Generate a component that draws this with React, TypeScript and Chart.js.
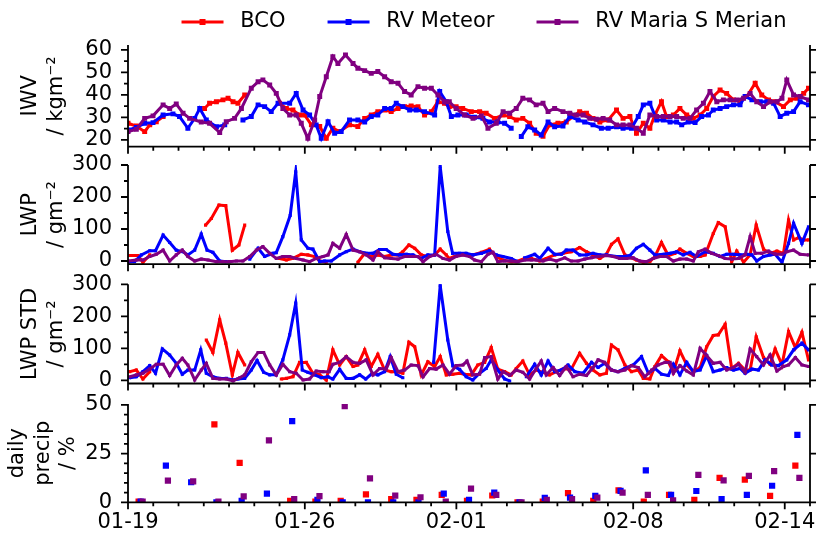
import React, { useEffect, useRef } from 'react';
import { Chart, registerables } from 'chart.js';

Chart.register(...registerables);

const FONT = '"DejaVu Sans", "Liberation Sans", sans-serif';
Chart.defaults.font.family = FONT;
Chart.defaults.font.size = 21;
Chart.defaults.color = '#000';

// ---------- shared axis values (x = days since 01-19 00:00) ----------
const seriesNames = ['BCO', 'RV Meteor', 'RV Maria S Merian'];
const seriesColors = ['#ff0000', '#0000ff', '#800080'];
const X_MIN = 0;
const X_MAX = 27;
const xTickValues = [0, 7, 13, 20, 26];
const xTickLabels = ['01-19', '01-26', '02-01', '02-08', '02-14'];
const xMinorTicks = [0, 1, 2, 3, 4, 5, 6, 7, 8, 9, 10, 11, 12, 13, 14, 15, 16, 17, 18, 19, 20, 21, 22, 23, 24, 25, 26, 27];

const iwvMajor = [20, 30, 40, 50, 60];
const iwvMinor = [20, 25, 30, 35, 40, 45, 50, 55, 60];
const lwpMajor = [0, 100, 200, 300];
const lwpMinor = [0, 50, 100, 150, 200, 250, 300];
const precipMajor = [0, 25, 50];
const precipMinor = [0, 5, 10, 15, 20, 25, 30, 35, 40, 45, 50];

// ---------- IWV / kg m-2 ----------
const bcoIwv = [[0,27.4],[0.33,26.2],[0.66,23.7],[0.86,26.7],[1.12,28.1],[1.39,30.4],[2.2,null],[3.03,34],[3.23,36.3],[3.5,37],[3.76,37.8],[3.96,38.5],[4.16,37],[4.35,36.3],[4.62,40],[5.3,null],[6.0,36.3],[6.27,34],[6.53,33.3],[6.79,31.1],[6.99,31.1],[7.26,26.7],[7.59,26],[7.85,20.7],[8.11,25.2],[8.38,23.7],[8.77,26.7],[9.1,26],[9.37,29.6],[9.63,31.1],[9.89,32.6],[10.16,33.3],[10.42,32.6],[10.69,34],[10.95,34.8],[11.21,35.1],[11.48,34.8],[11.74,31.1],[12.01,32.6],[12.27,37],[12.53,36.3],[12.72,34.8],[12.99,34.8],[13.25,34],[13.59,32.6],[13.92,32.6],[14.18,31.9],[14.51,29.6],[14.85,31.1],[15.11,30.4],[15.37,28.9],[15.63,29.6],[15.9,27.4],[16.16,23],[16.43,21.6],[16.69,26.7],[17.02,27.4],[17.35,28],[17.62,30.4],[17.88,32.6],[18.15,31.9],[18.41,29.6],[18.68,28],[19.01,28.9],[19.34,33.3],[19.6,29.6],[19.87,30.4],[20.13,23],[20.4,27.4],[20.66,25.2],[20.86,31.1],[21.12,37],[21.32,30.4],[21.59,31.1],[21.85,34],[22.12,31.1],[22.38,29.6],[22.65,31.1],[22.91,34],[23.17,39.3],[23.44,42.2],[23.7,40.7],[23.97,37.8],[24.23,37],[24.5,39.3],[24.83,45.2],[25.09,40],[25.36,37.8],[25.62,37],[25.95,34.8],[26.22,37.8],[26.48,38.5],[26.75,40.7],[26.94,43]];
const meteorIwv = [[0,24.4],[0.33,25.6],[0.66,27.4],[0.99,27.7],[1.39,31.1],[1.78,31.6],[2.04,30.4],[2.37,25.2],[2.64,29.6],[2.84,34],[3.1,28.9],[3.5,25.9],[3.83,26.7],[4.2,null],[4.55,28.9],[4.88,30.4],[5.15,35.6],[5.41,34.8],[5.67,32.6],[5.94,36.3],[6.4,36.3],[6.66,40.7],[6.93,33.3],[7.19,31.1],[7.45,26.7],[7.65,20.7],[7.92,28.1],[8.18,23],[8.44,23.7],[8.77,28.9],[9.1,28.9],[9.37,28],[9.63,30.4],[9.89,31.1],[10.16,34],[10.42,34],[10.62,36.3],[10.88,34.8],[11.15,33.3],[11.41,33.3],[11.74,32.6],[12.14,31.1],[12.34,41.5],[12.6,37],[12.8,30.4],[13.06,31.1],[13.39,31.1],[13.72,30.1],[14.05,29.6],[14.31,28],[14.64,28],[14.91,27.4],[15.17,25.2],[15.37,null],[15.57,21.5],[15.83,25.9],[16.1,24.4],[16.36,22.2],[16.63,28],[16.89,25.9],[17.22,26.2],[17.49,30.4],[17.82,28.9],[18.08,28],[18.41,26.7],[18.74,25.2],[19.01,25.2],[19.34,25.9],[19.6,25.2],[19.93,25.2],[20.2,30.4],[20.4,35.6],[20.66,36.3],[20.93,28.9],[21.19,28.9],[21.46,28],[21.72,28],[21.92,26.7],[22.18,28],[22.45,27.7],[22.71,30.4],[22.98,31.1],[23.17,33.3],[23.44,34],[23.7,34.8],[23.97,35.6],[24.23,35.6],[24.43,39.3],[24.7,37.8],[25.03,37],[25.29,37],[25.56,36.3],[25.82,30.4],[26.08,31.9],[26.35,32.6],[26.61,37],[26.94,35.6]];
const merianIwv = [[0,23.7],[0.33,24.7],[0.66,29.6],[0.99,30.7],[1.39,35.6],[1.65,34],[1.91,36],[2.18,31.9],[2.44,29.6],[2.9,28],[3.23,27.4],[3.63,23.3],[3.89,28.1],[4.22,29.6],[4.49,34],[4.88,43],[5.15,45.9],[5.34,46.7],[5.61,44.4],[5.87,40.7],[6.13,34],[6.4,31.1],[6.66,31.1],[6.86,27.4],[7.12,20.7],[7.39,28.9],[7.59,39.3],[7.85,48.1],[8.11,57],[8.31,54],[8.61,57.8],[8.91,54],[9.1,51.9],[9.37,50.8],[9.63,49.6],[9.89,50.4],[10.16,48.1],[10.42,45.9],[10.69,45.2],[10.95,41.5],[11.21,40],[11.48,43.7],[11.74,43],[12.01,43],[12.27,40],[12.53,37],[12.72,37],[12.99,34],[13.32,31.1],[13.66,29.6],[13.99,30.7],[14.25,25.2],[14.58,27.4],[14.85,32.6],[15.11,31.9],[15.37,34],[15.63,38.5],[15.9,37.8],[16.16,35.6],[16.43,36.3],[16.63,32.6],[16.89,34],[17.22,32.6],[17.49,31.9],[17.75,31.1],[18.02,31.1],[18.28,29.6],[18.54,29.2],[18.81,29.6],[19.07,28.9],[19.34,26.7],[19.6,26.7],[19.87,26.7],[20.13,25.2],[20.4,23],[20.66,31.1],[20.93,30.4],[21.19,30.4],[21.46,30.4],[21.72,30.4],[21.98,29.6],[22.25,29.6],[22.51,33.3],[22.78,36.3],[23.04,41.5],[23.31,37],[23.57,37.8],[23.84,37.8],[24.1,37.8],[24.37,38.5],[24.63,40.7],[24.89,37],[25.16,34.8],[25.42,37],[25.69,37],[25.89,38.5],[26.08,46.7],[26.35,40],[26.61,39.3],[26.94,37.8]];

// ---------- LWP / g m-2 ----------
const bcoLwp = [[0.07,17],[0.4,17],[0.59,-4],[0.86,19],[2,null],[3.07,112],[3.3,133],[3.6,175],[3.87,173],[4.13,34],[4.39,50],[4.62,112],[5.3,null],[6.0,8],[6.27,3],[6.53,8],[6.86,21],[7.12,19],[7.39,14],[7.59,0],[7.85,-4],[8.5,null],[9.1,-4],[9.37,24],[9.63,14],[9.89,19],[10.16,14],[10.42,19],[10.69,19],[10.88,29],[11.12,50],[11.35,40],[11.61,19],[11.87,14],[12.14,19],[12.36,37],[12.6,19],[12.72,8],[13.06,19],[13.32,21],[13.65,19],[13.99,27],[14.31,37],[14.58,14],[14.84,3],[15.17,-2],[15.37,-2],[15.7,8],[15.97,8],[16.3,0],[16.56,8],[16.89,19],[17.22,24],[17.55,29],[17.88,42],[18.15,29],[18.41,19],[18.68,8],[18.94,21],[19.14,52],[19.4,69],[19.67,19],[19.93,10],[20.13,3],[20.4,-4],[20.66,-2],[20.86,14],[21.12,58],[21.39,17],[21.65,24],[21.85,37],[22.12,24],[22.38,14],[22.65,14],[22.85,19],[23.17,86],[23.37,120],[23.64,107],[23.9,-2],[24.1,31],[24.37,-4],[24.63,19],[24.87,112],[25.16,37],[25.42,24],[25.69,31],[25.95,24],[26.15,128],[26.35,66],[26.55,73],[26.75,66],[26.94,66]];
const meteorLwp = [[0,-3],[0.26,-2],[0.53,19],[0.86,32],[1.09,32],[1.39,81],[1.65,58],[1.91,34],[2.18,29],[2.37,19],[2.64,34],[2.9,84],[3.13,34],[3.36,27],[3.63,0],[3.89,-2],[4.3,null],[4.82,6],[5.15,40],[5.41,14],[5.74,24],[5.87,26],[6.13,76],[6.42,142],[6.64,279],[6.86,66],[7.12,40],[7.32,37],[7.59,-2],[7.78,0],[8.05,0],[8.38,19],[8.64,29],[8.91,37],[9.17,29],[9.43,24],[9.7,24],[9.96,36],[10.22,36],[10.49,21],[10.75,19],[11.02,21],[11.28,19],[11.61,8],[11.87,19],[12.14,19],[12.36,295],[12.66,92],[12.85,24],[13.12,24],[13.39,24],[13.65,19],[13.99,24],[14.31,32],[14.58,19],[14.84,14],[15.17,8],[15.37,0],[15.5,null],[15.7,10],[16.1,21],[16.3,8],[16.63,40],[16.89,21],[17.16,21],[17.35,34],[17.62,34],[17.88,19],[18.15,19],[18.41,24],[18.68,19],[18.94,19],[19.34,14],[19.6,14],[19.87,17],[20.13,40],[20.4,52],[20.66,34],[20.86,19],[21.19,21],[21.46,24],[21.72,29],[21.98,19],[22.25,27],[22.51,14],[22.85,29],[23.17,24],[23.44,14],[23.7,21],[23.97,21],[24.23,19],[24.5,21],[24.7,19],[24.89,0],[25.16,14],[25.42,19],[25.62,21],[25.89,-4],[26.15,55],[26.35,118],[26.68,55],[26.94,107]];
const merianLwp = [[0,0],[0.33,3],[0.59,3],[0.86,14],[1.12,21],[1.39,34],[1.65,0],[1.91,19],[2.15,34],[2.37,14],[2.64,0],[2.9,6],[3.17,3],[3.5,-2],[3.76,-2],[4.02,-2],[4.29,0],[4.55,0],[4.82,14],[5.08,34],[5.34,45],[5.61,24],[5.87,8],[6.13,14],[6.4,14],[6.66,8],[6.93,3],[7.19,-2],[7.45,8],[7.72,14],[7.92,19],[8.11,55],[8.38,40],[8.64,83],[8.91,34],[9.17,29],[9.43,19],[9.7,3],[9.89,29],[10.16,10],[10.42,8],[10.69,6],[10.95,14],[11.21,14],[11.48,14],[11.68,-2],[11.94,14],[12.2,21],[12.47,8],[12.73,3],[12.99,14],[13.25,19],[13.52,14],[13.72,3],[13.99,-2],[14.25,21],[14.45,27],[14.64,-2],[14.91,0],[15.17,0],[15.44,-2],[15.7,3],[15.97,3],[16.16,3],[16.43,0],[16.69,6],[16.96,0],[17.29,10],[17.55,0],[17.82,0],[18.08,6],[18.35,10],[18.61,14],[18.94,17],[19.21,14],[19.47,8],[19.74,8],[20,10],[20.26,0],[20.53,-2],[20.79,8],[21.06,14],[21.32,14],[21.59,0],[21.85,6],[22.12,6],[22.38,0],[22.58,29],[22.85,37],[23.11,24],[23.37,17],[23.64,8],[23.9,6],[24.17,8],[24.43,19],[24.63,76],[24.83,24],[25.09,24],[25.36,31],[25.62,21],[25.89,21],[26.08,29],[26.35,34],[26.61,21],[26.94,19]];

// ---------- LWP STD / g m-2 ----------
const bcoStd = [[0.07,27],[0.33,32],[0.59,4],[0.86,27],[2,null],[3.1,126],[3.36,87],[3.63,189],[3.87,116],[4.13,17],[4.35,87],[4.62,48],[5.3,null],[6.07,4],[6.27,6],[6.53,11],[6.79,56],[7.06,56],[7.32,22],[7.59,17],[7.85,1],[8.11,95],[8.38,48],[8.64,74],[8.91,43],[9.1,48],[9.37,95],[9.63,43],[9.89,81],[10.16,32],[10.42,27],[10.62,27],[10.88,22],[11.12,119],[11.35,105],[11.61,17],[11.87,58],[12.14,43],[12.36,74],[12.6,17],[12.86,19],[13.13,22],[13.32,19],[13.59,17],[13.85,48],[14.12,56],[14.38,102],[14.64,35],[14.91,27],[15.17,17],[15.37,37],[15.63,60],[15.9,17],[16.16,32],[16.43,25],[16.69,17],[16.96,27],[17.22,35],[17.55,35],[17.88,84],[18.15,53],[18.41,32],[18.68,17],[18.94,22],[19.14,110],[19.4,95],[19.67,48],[19.93,27],[20.2,32],[20.4,6],[20.66,4],[20.86,43],[21.12,77],[21.39,58],[21.59,25],[21.85,92],[22.12,48],[22.38,27],[22.65,40],[22.91,105],[23.17,140],[23.37,142],[23.64,175],[23.9,37],[24.17,53],[24.43,32],[24.63,32],[24.87,136],[25.16,71],[25.42,50],[25.62,98],[25.89,48],[26.15,152],[26.42,102],[26.68,150],[26.94,64]];
const meteorStd = [[0.07,8],[0.33,11],[0.59,27],[0.86,46],[1.09,22],[1.36,98],[1.65,79],[1.91,53],[2.15,19],[2.37,32],[2.64,32],[2.88,95],[3.1,22],[3.36,11],[3.63,6],[3.89,6],[4.16,1],[4.35,4],[4.62,6],[4.88,32],[5.11,62],[5.37,25],[5.61,17],[5.87,17],[6.13,64],[6.4,142],[6.64,241],[6.9,32],[7.12,25],[7.39,17],[7.65,8],[7.92,11],[8.11,4],[8.38,34],[8.64,6],[8.91,6],[9.17,17],[9.41,4],[9.67,22],[9.89,17],[10.16,27],[10.38,74],[10.62,19],[10.88,8],[11.5,null],[12.1,56],[12.36,296],[12.66,126],[12.86,45],[13.13,34],[13.39,11],[13.65,1],[13.92,22],[14.18,37],[14.38,64],[14.64,32],[14.91,4],[15.11,-2],[15.4,null],[15.77,11],[16.1,50],[16.36,17],[16.63,60],[16.89,27],[17.16,32],[17.42,48],[17.69,27],[18.02,22],[18.35,56],[18.61,40],[18.87,53],[19.14,32],[19.4,27],[19.67,37],[20,48],[20.33,74],[20.6,22],[20.86,37],[21.12,19],[21.39,15],[21.59,50],[21.85,17],[22.12,56],[22.38,27],[22.65,32],[22.91,77],[23.17,27],[23.44,32],[23.7,40],[23.97,32],[24.23,37],[24.43,22],[24.7,35],[24.96,32],[25.22,64],[25.49,48],[25.75,46],[26.08,64],[26.35,95],[26.68,116],[26.94,95]];
const merianStd = [[0.07,11],[0.33,17],[0.59,22],[0.86,35],[1.12,50],[1.39,50],[1.65,15],[1.91,48],[2.15,69],[2.37,48],[2.64,1],[2.9,32],[3.1,53],[3.36,6],[3.63,4],[3.89,4],[4.16,-2],[4.42,8],[4.62,17],[4.88,58],[5.15,87],[5.37,87],[5.61,48],[5.87,17],[6.13,50],[6.4,27],[6.66,22],[6.93,1],[7.19,4],[7.45,29],[7.72,27],[7.96,27],[8.11,50],[8.38,56],[8.64,74],[8.91,56],[9.17,53],[9.43,64],[9.7,17],[9.96,37],[10.22,35],[10.42,71],[10.69,27],[10.95,32],[11.21,48],[11.48,46],[11.68,11],[11.94,37],[12.2,35],[12.47,48],[12.73,19],[12.99,46],[13.26,48],[13.42,60],[13.65,17],[13.92,19],[14.12,71],[14.38,74],[14.64,4],[14.85,27],[15.11,15],[15.37,32],[15.63,25],[15.9,4],[16.16,37],[16.36,60],[16.56,17],[16.83,40],[17.09,15],[17.35,43],[17.62,11],[17.88,19],[18.15,15],[18.41,40],[18.61,64],[18.87,56],[19.14,32],[19.4,27],[19.67,32],[19.93,46],[20.2,40],[20.46,11],[20.73,32],[20.99,48],[21.26,56],[21.46,56],[21.59,22],[21.85,46],[22.12,29],[22.38,17],[22.65,100],[22.91,77],[23.17,53],[23.44,56],[23.7,32],[23.97,40],[24.17,50],[24.43,25],[24.63,98],[24.89,74],[25.16,48],[25.42,79],[25.69,29],[25.95,43],[26.15,48],[26.42,71],[26.68,48],[26.94,43]];

// ---------- daily precip / % (one value per day, 01-19 ... 02-14) ----------
const precipDays = [0, 1, 2, 3, 4, 5, 6, 7, 8, 9, 10, 11, 12, 13, 14, 15, 16, 17, 18, 19, 20, 21, 22, 23, 24, 25, 26];
const bcoPrecip = [0.3, null, null, 40, 20.3, null, 0.7, 0.3, 0.7, 4.1, 1.7, 1.2, 3.8, 0.7, 3.5, 0, 0.3, 4.7, 0.7, 6.1, 0.3, 3.8, 1.2, 12.5, 11.7, 3.3, 18.8];
const meteorPrecip = [0.3, 18.8, 10.3, 0, 0.7, 4.4, 41.7, 1.2, 0, 0, 0, 0, 4.4, 1.2, 5, 0, 2.3, 2.4, 3.3, 5.9, 16.4, 3.8, 5.8, 1.7, 3.8, 8.5, 34.6];
const merianPrecip = [0.3, 11.1, 10.8, 0.3, 3.1, 31.8, 1.7, 3.2, 49.4, 12.3, 3.4, 2.6, 0.3, 7, 3.8, 0, 1.2, 1.6, 2.4, 5, 3.8, 1, 14.1, 11.3, 13.6, 16, 12.5];
const precipHourOffset = [0.42, 0.5, 0.58]; // time of day of each station's daily point

// ---------- helpers ----------
const toXY = (pts: any[]) => pts.map(([x, y]) => ({ x, y }));

function lineDataset(i: number, pts: any[], radius: number) {
  const c = seriesColors[i];
  return {
    label: seriesNames[i],
    data: toXY(pts),
    borderColor: c,
    backgroundColor: c,
    borderWidth: 3,
    pointStyle: 'rect',
    pointRadius: radius,
    pointBorderWidth: 0,
    pointBackgroundColor: c,
    tension: 0,
    spanGaps: false,
    clip: 0,
    order: 3 - i,
  };
}

function precipDataset(i: number, vals: (number | null)[]) {
  const c = seriesColors[i];
  return {
    label: seriesNames[i],
    data: precipDays.map((d, k) => ({ x: d + precipHourOffset[i], y: vals[k] })),
    backgroundColor: c,
    borderColor: c,
    pointStyle: 'rect',
    pointRadius: 4.4,
    pointBorderWidth: 0,
    showLine: false,
    clip: 0,
    order: 3 - i,
  };
}

function yAxis(min: number, max: number, major: number[], title: string[], titlePad: number) {
  return {
    type: 'linear',
    min,
    max,
    afterBuildTicks: (s: any) => { s.ticks = major.map((v) => ({ value: v })); },
    afterFit: (s: any) => { s.width = 128; s.paddingTop = 0; s.paddingBottom = 0; },
    grid: { display: false, drawTicks: false },
    border: { display: false },
    ticks: { autoSkip: false, padding: 16, color: '#000', font: { size: 21, family: FONT }, callback: (v: any) => String(v) },
    title: { display: true, text: title, color: '#000', font: { size: 21, family: FONT }, padding: { top: titlePad, bottom: 0 } },
  };
}

function xAxis(show: boolean) {
  const base: any = { type: 'linear', min: X_MIN, max: X_MAX, grid: { display: false, drawTicks: false }, border: { display: false } };
  if (!show) return { ...base, display: false };
  return {
    ...base,
    afterBuildTicks: (s: any) => { s.ticks = xTickValues.map((v) => ({ value: v })); },
    afterFit: (s: any) => { s.height = 32.7; s.paddingLeft = 0; s.paddingRight = 0; },
    ticks: {
      autoSkip: false, maxRotation: 0, minRotation: 0, padding: 8, color: '#000', font: { size: 21, family: FONT },
      callback: (v: any) => xTickLabels[xTickValues.indexOf(v)] ?? '',
    },
  };
}

function axesPlugin(yMajor: number[], yMinor: number[]) {
  return {
    id: 'mplAxes',
    afterDraw(chart: any) {
      const { ctx, chartArea } = chart;
      const { left, right, top, bottom } = chartArea;
      const xs = chart.scales.x;
      const ys = chart.scales.y;
      ctx.save();
      ctx.strokeStyle = '#000';
      ctx.lineWidth = 1.8;
      ctx.beginPath();
      ctx.moveTo(left, top); ctx.lineTo(left, bottom);
      ctx.moveTo(left - 0.9, bottom); ctx.lineTo(right + 0.9, bottom);
      ctx.moveTo(right, top); ctx.lineTo(right, bottom);
      for (const v of yMinor) { const p = ys.getPixelForValue(v); ctx.moveTo(left - 4, p); ctx.lineTo(left, p); }
      for (const v of yMajor) {
        const p = ys.getPixelForValue(v);
        ctx.moveTo(left - 7, p); ctx.lineTo(left, p);
        ctx.moveTo(right, p); ctx.lineTo(right + 6, p);
      }
      for (const d of xMinorTicks) { const p = xs.getPixelForValue(d); ctx.moveTo(p, bottom); ctx.lineTo(p, bottom + 4); }
      for (const d of xTickValues) { const p = xs.getPixelForValue(d); ctx.moveTo(p, bottom); ctx.lineTo(p, bottom + 7); }
      ctx.stroke();
      ctx.restore();
    },
  };
}

const legendPlugin = {
  id: 'mplLegend',
  afterDraw(chart: any) {
    const ctx = chart.ctx;
    ctx.save();
    ctx.font = `21px ${FONT}`;
    const handle = 42, pad = 16.8, gap = 42, cy = 22, center = 484;
    const widths = seriesNames.map((n) => ctx.measureText(n).width);
    const total = widths.reduce((a, b) => a + b, 0) + 3 * (handle + pad) + 2 * gap;
    let x = center - total / 2;
    seriesNames.forEach((name, i) => {
      ctx.strokeStyle = seriesColors[i];
      ctx.lineWidth = 3;
      ctx.beginPath();
      ctx.moveTo(x, cy); ctx.lineTo(x + handle, cy);
      ctx.stroke();
      ctx.fillStyle = seriesColors[i];
      ctx.fillRect(x + handle / 2 - 3, cy - 3, 6, 6);
      ctx.fillStyle = '#000';
      ctx.textBaseline = 'middle';
      ctx.textAlign = 'left';
      ctx.fillText(name, x + handle + pad, cy);
      x += handle + pad + widths[i] + gap;
    });
    ctx.restore();
  },
};

function baseOptions(padding: any, scales: any) {
  return {
    responsive: false,
    animation: false,
    events: [],
    layout: { padding },
    plugins: { legend: { display: false }, tooltip: { enabled: false } },
    scales,
  };
}

export default function App() {
  const c1 = useRef<HTMLCanvasElement>(null);
  const c2 = useRef<HTMLCanvasElement>(null);
  const c3 = useRef<HTMLCanvasElement>(null);
  const c4 = useRef<HTMLCanvasElement>(null);

  useEffect(() => {
    const charts: Chart[] = [];
    charts.push(new Chart(c1.current as any, {
      type: 'line',
      data: { datasets: [lineDataset(0, bcoIwv, 3.5), lineDataset(1, meteorIwv, 3.5), lineDataset(2, merianIwv, 3.5)] } as any,
      options: baseOptions({ top: 45, bottom: 13.3, left: 0, right: 6 }, { x: xAxis(false), y: yAxis(17, 62.2, iwvMajor, ['IWV', '/ kgm⁻²'], 18.4) }) as any,
      plugins: [axesPlugin(iwvMajor, iwvMinor), legendPlugin] as any,
    }));
    charts.push(new Chart(c2.current as any, {
      type: 'line',
      data: { datasets: [lineDataset(0, bcoLwp, 2.2), lineDataset(1, meteorLwp, 2.2), lineDataset(2, merianLwp, 2.2)] } as any,
      options: baseOptions({ top: 15, bottom: 10.8, left: 0, right: 6 }, { x: xAxis(false), y: yAxis(-10, 300, lwpMajor, ['LWP', '/ gm⁻²'], 18.4) }) as any,
      plugins: [axesPlugin(lwpMajor, lwpMinor)] as any,
    }));
    charts.push(new Chart(c3.current as any, {
      type: 'line',
      data: { datasets: [lineDataset(0, bcoStd, 2.2), lineDataset(1, meteorStd, 2.2), lineDataset(2, merianStd, 2.2)] } as any,
      options: baseOptions({ top: 14.3, bottom: 11.5, left: 0, right: 6 }, { x: xAxis(false), y: yAxis(-10, 300, lwpMajor, ['LWP STD', '/ gm⁻²'], 18.4) }) as any,
      plugins: [axesPlugin(lwpMajor, lwpMinor)] as any,
    }));
    charts.push(new Chart(c4.current as any, {
      type: 'scatter',
      data: { datasets: [precipDataset(0, bcoPrecip), precipDataset(1, meteorPrecip), precipDataset(2, merianPrecip)] } as any,
      options: baseOptions({ top: 14, bottom: 0, left: 0, right: 6 }, { x: xAxis(true), y: yAxis(0, 50.5, precipMajor, ['daily', 'precip', '/ %'], 5.4) }) as any,
      plugins: [axesPlugin(precipMajor, precipMinor)] as any,
    }));
    return () => charts.forEach((c) => c.destroy());
  }, []);

  const cs: any = { position: 'absolute', left: 0 };
  return (
    <div style={{ position: 'absolute', left: 0, top: 0, width: 816, height: 535, background: '#fff', overflow: 'hidden' }}>
      <canvas ref={c1} width={816} height={160} style={{ ...cs, top: 0, width: 816, height: 160 }} />
      <canvas ref={c2} width={816} height={125} style={{ ...cs, top: 150, width: 816, height: 125 }} />
      <canvas ref={c3} width={816} height={125} style={{ ...cs, top: 270, width: 816, height: 125 }} />
      <canvas ref={c4} width={816} height={145} style={{ ...cs, top: 390, width: 816, height: 145 }} />
    </div>
  );
}
